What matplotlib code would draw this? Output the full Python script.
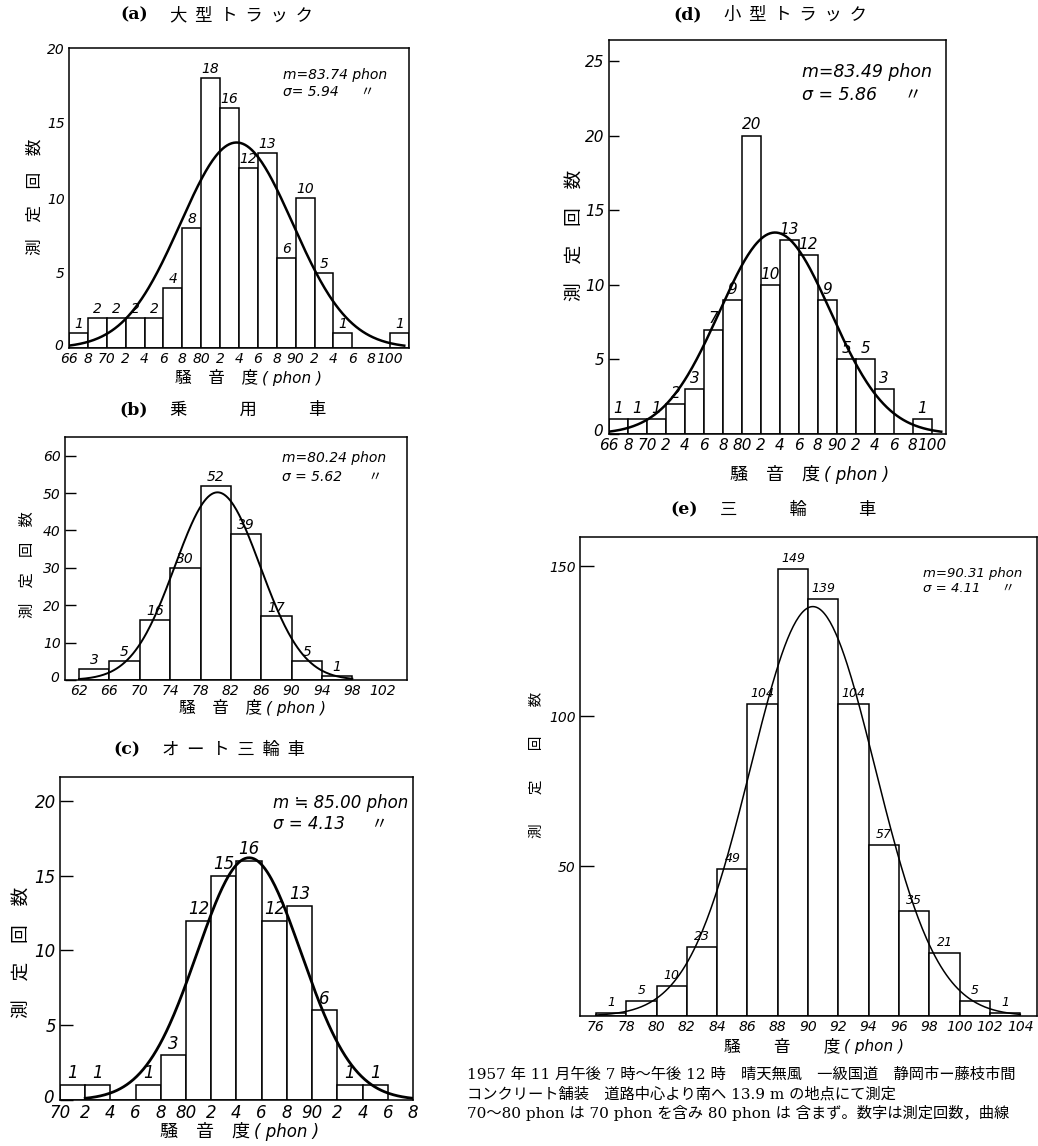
import numpy as np
import matplotlib.pyplot as plt
from matplotlib.transforms import offset_copy

plt.rcParams['font.family'] = ['DejaVu Sans', 'Noto Sans CJK JP']
JP = ['Noto Sans CJK JP', 'DejaVu Sans']

W, H = 1038, 1146
fig = plt.figure(figsize=(W / 100, H / 100), dpi=100)

### data ###
# (a) 大型トラック, 2 phon bins from 66
a_lefts = [66, 68, 70, 72, 74, 76, 78, 80, 82, 84, 86, 88, 90, 92, 94, 96, 98, 100]
a_counts = [1, 2, 2, 2, 2, 4, 8, 18, 16, 12, 13, 6, 10, 5, 1, 0, 0, 1]
a_m, a_s, a_peak = 83.74, 5.94, 13.7
a_ticks = ['66', '8', '70', '2', '4', '6', '8', '80', '2', '4', '6', '8', '90', '2', '4', '6', '8', '100']

# (b) 乗用車, 4 phon bins from 62
b_lefts = [62, 66, 70, 74, 78, 82, 86, 90, 94]
b_counts = [3, 5, 16, 30, 52, 39, 17, 5, 1]
b_m, b_s, b_peak = 80.24, 5.62, 50.2
b_ticks = ['62', '66', '70', '74', '78', '82', '86', '90', '94', '98', '102']

# (c) オート三輪車
c_lefts = [70, 72, 74, 76, 78, 80, 82, 84, 86, 88, 90, 92, 94]
c_counts = [1, 1, 0, 1, 3, 12, 15, 16, 12, 13, 6, 1, 1]
c_m, c_s, c_peak = 85.00, 4.13, 16.2
c_ticks = ['70', '2', '4', '6', '8', '80', '2', '4', '6', '8', '90', '2', '4', '6', '8']

# (d) 小型トラック
d_lefts = [66, 68, 70, 72, 74, 76, 78, 80, 82, 84, 86, 88, 90, 92, 94, 96, 98]
d_counts = [1, 1, 1, 2, 3, 7, 9, 20, 10, 13, 12, 9, 5, 5, 3, 0, 1]
d_m, d_s, d_peak = 83.49, 5.86, 13.5
d_ticks = ['66', '8', '70', '2', '4', '6', '8', '80', '2', '4', '6', '8', '90', '2', '4', '6', '8', '100']

# (e) 三輪車
e_lefts = [76, 78, 80, 82, 84, 86, 88, 90, 92, 94, 96, 98, 100, 102]
e_counts = [1, 5, 10, 23, 49, 104, 149, 139, 104, 57, 35, 21, 5, 1]
e_m, e_s, e_peak = 90.31, 4.11, 136.5
e_ticks = ['76', '78', '80', '82', '84', '86', '88', '90', '92', '94', '96', '98', '100', '102', '104']


def px_axes(l, t, r, b):
    return fig.add_axes([l / W, 1 - b / H, (r - l) / W, (b - t) / H])


def ftext(x, y, s, **kw):
    fig.text(x / W, 1 - y / H, s, **kw)


def panel(box, lefts, counts, width, m, s, peak, span, ticklabels, tickstep,
          xlim, ylim, yticks, ytlen, fs, lab_fs, curve_lw):
    ax = px_axes(*box)
    ax.bar(lefts, counts, width=width, align='edge', color='white',
           edgecolor='black', linewidth=1.1, zorder=2)
    for x0, c in zip(lefts, counts):
        if c > 0:
            ax.text(x0 + width / 2, c + ylim[1] * 0.008, str(c), ha='center',
                    va='bottom', fontsize=lab_fs, style='italic', zorder=4)
    # fitted normal curve from the m, sigma written on the chart
    xx = np.linspace(span[0], span[1], 300)
    ax.plot(xx, peak * np.exp(-(xx - m) ** 2 / (2 * s ** 2)), color='black',
            lw=curve_lw, zorder=3)
    ax.set_xlim(*xlim)
    ax.set_ylim(*ylim)
    ax.set_xticks(np.arange(len(ticklabels)) * tickstep + lefts[0])
    ax.set_xticklabels(ticklabels, style='italic', fontsize=fs)
    ax.set_yticks(yticks)
    ax.set_yticklabels([str(v) for v in yticks], style='italic', fontsize=fs)
    ax.tick_params(axis='x', length=0, pad=3)
    ax.tick_params(axis='y', direction='in', length=ytlen, width=1.0, pad=3)
    if yticks[0] == 0:
        # lift the corner "0" a little, clear of the first x label
        lab = ax.get_yticklabels()[0]
        lab.set_transform(offset_copy(lab.get_transform(), fig=fig, x=-2, y=4, units='dots'))
    for sp in ax.spines.values():
        sp.set_linewidth(1.1)
    return ax


def title_jp(xr, y, tag, s, fs=12.5):
    ftext(xr, y, tag, ha='right', va='center', fontsize=fs, family='DejaVu Serif', weight='bold')
    ftext(xr + 22, y, s, ha='left', va='center', fontsize=fs, family=JP)


def xlabel_jp(xb, y, gap, fs=12):
    ftext(xb, y, '騒' + gap + '音' + gap + '度', ha='right', va='center', fontsize=fs, family=JP)
    ftext(xb + 4, y, '( phon )', ha='left', va='center', fontsize=fs - 1, style='italic')


def ylabel_jp(x, y, s, fs):
    ftext(x, y, s, ha='center', va='center', rotation=90, fontsize=fs, family=JP)


def stats(x, y, m_txt, s_txt, fs, dy):
    ftext(x, y, m_txt, ha='left', va='center', fontsize=fs, style='italic')
    ftext(x, y + dy, s_txt, ha='left', va='center', fontsize=fs, style='italic',
          family=['DejaVu Sans', 'Noto Sans CJK JP'])


# (a)
panel((69, 48, 409, 348), a_lefts, a_counts, 2, a_m, a_s, a_peak, (66, 101.5), a_ticks, 2,
      (66, 102), (0, 20), [0, 5, 10, 15, 20], 0, 10, 10, 1.8)
title_jp(148, 15, '(a)', '大  型  ト  ラ  ッ  ク')
xlabel_jp(258, 378, '\u3000')
ylabel_jp(35, 197, '測\u3000定\u3000回\u3000数', 12)
stats(283, 75, 'm=83.74 phon', 'σ= 5.94     〃', 10, 17)

# (b)
panel((65, 437, 407, 680), b_lefts, b_counts, 4, b_m, b_s, b_peak, (62, 98), b_ticks, 4,
      (60.15, 105.2), (0, 65), [0, 10, 20, 30, 40, 50, 60], 8, 10, 10, 1.4)
title_jp(148, 410, '(b)', '乗\u3000\u3000\u3000用\u3000\u3000\u3000車')
xlabel_jp(262, 708, '\u3000')
ylabel_jp(27, 565, '測\u3000定\u3000回\u3000数', 11)
stats(282, 458, 'm=80.24 phon', 'σ = 5.62      〃', 10, 19)

# (c)
panel((60, 777, 413, 1100), c_lefts, c_counts, 2, c_m, c_s, c_peak, (72, 98), c_ticks, 2,
      (70, 98), (0, 21.6), [0, 5, 10, 15, 20], 9, 12, 12, 2.0)
title_jp(140, 750, '(c)', 'オ  ー  ト  三  輪  車')
xlabel_jp(250, 1132, '\u3000', 13)
ylabel_jp(22, 952, '測\u3000定\u3000回\u3000数', 13.5)
stats(273, 803, 'm ≒ 85.00 phon', 'σ = 4.13     〃', 12, 21)

# (d)
panel((609, 40, 946, 434), d_lefts, d_counts, 2, d_m, d_s, d_peak, (66, 101), d_ticks, 2,
      (66, 101.5), (0, 26.4), [0, 5, 10, 15, 20, 25], 7, 11, 11, 1.8)
title_jp(702, 15, '(d)', '小  型  ト  ラ  ッ  ク')
xlabel_jp(820, 475, '\u3000', 13)
ylabel_jp(575, 235, '測\u3000定\u3000回\u3000数', 13.5)
stats(802, 72, 'm=83.49 phon', 'σ = 5.86     〃', 12.5, 23)

# (e)
panel((580, 537, 1037, 1016), e_lefts, e_counts, 2, e_m, e_s, e_peak, (76, 104), e_ticks, 2,
      (74.95, 105.1), (0, 159.7), [50, 100, 150], 10, 10, 9, 1.1)
title_jp(698, 510, '(e)', '三\u3000\u3000\u3000輪\u3000\u3000\u3000車')
xlabel_jp(840, 1047, '\u3000\u3000', 12)
ylabel_jp(537, 765, '測\u3000\u3000定\u3000\u3000回\u3000\u3000数', 10.5)
stats(923, 573, 'm=90.31 phon', 'σ = 4.11     〃', 9.5, 15)

# note under (e)
note_lines = [
    '1957 年 11 月午後 7 時〜午後 12 時\u3000晴天無風\u3000一級国道\u3000静岡市ー藤枝市間',
    'コンクリート舗装\u3000道路中心より南へ 13.9 m の地点にて測定',
    '70〜80 phon は 70 phon を含み 80 phon は 含まず。数字は測定回数，曲線',
]
for i, line in enumerate(note_lines):
    ftext(467, 1075 + i * 19, line, ha='left', va='center', fontsize=11,
          family=['DejaVu Serif', 'Noto Sans CJK JP'])

fig.savefig('out.png', dpi=100)
